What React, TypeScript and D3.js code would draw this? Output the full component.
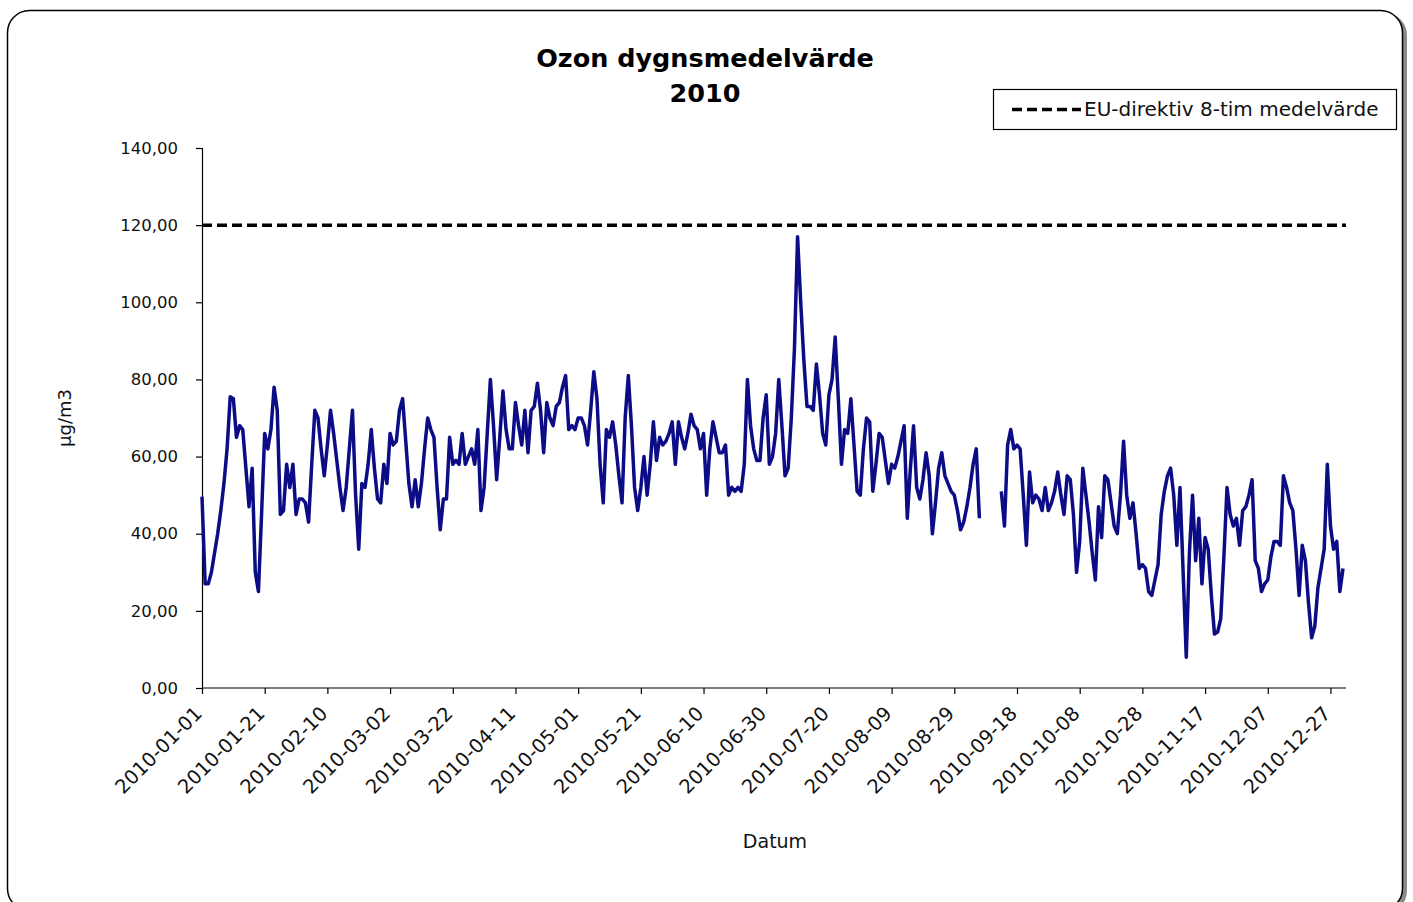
import { useEffect, useRef } from 'react';
import * as d3 from 'd3';

// daily mean ozone, µg/m3, one array per month (null = missing)
const jan = [49.6, 27, 27, 30, 35, 40, 46, 53, 62, 75.5, 75, 65, 68, 67, 57, 47, 57, 30, 25, 45, 66, 62, 67, 78, 72, 45, 46, 58, 52, 58, 45];
const feb = [49, 49, 48, 43, 58, 72, 70, 62, 55, 63, 72, 66, 59, 52, 46, 52, 62, 72, 50, 36, 53, 52, 58, 67, 57, 49, 48, 58];
const mar = [53, 66, 63, 64, 72, 75, 64, 53, 47, 54, 47, 53, 62, 70, 67, 65, 52, 41, 49, 49, 65, 58, 59, 58, 66, 58, 60, 62, 58, 67, 46];
const apr = [52, 66, 80, 68, 54, 65, 77, 67, 62, 62, 74, 68, 63, 72, 61, 72, 73, 79, 72, 61, 74, 70, 68, 73, 74, 78, 81, 67, 68, 67];
const may = [70, 70, 68, 63, 72, 82, 75, 58, 48, 67, 65, 69, 63, 55, 48, 70, 81, 68, 52, 46, 52, 60, 50, 58, 69, 59, 65, 63, 64, 66, 69];
const jun = [58, 69, 65, 62, 66, 71, 68, 67, 62, 66, 50, 62, 69, 65, 61, 61, 63, 50, 52, 51, 52, 51, 58, 80, 68, 62, 59, 59, 70, 76];
const jul = [58, 60, 66, 80, 68, 55, 57, 70, 88, 117, 100, 85, 73, 73, 72, 84, 76, 66, 63, 76, 80, 91, 75, 58, 67, 66, 75, 63, 51, 50, 62];
const aug = [70, 69, 51, 58, 66, 65, 59, 53, 58, 57, 60, 64, 68, 44, 57, 68, 52, 49, 54, 61, 55, 40, 48, 57, 61, 55, 53, 51, 50, 46, 41];
const sep = [43, 47, 52, 58, 62, 44, null, null, null, null, null, null, 51, 42, 63, 67, 62, 63, 62, 50, 37, 56, 48, 50, 49, 46, 52, 46, 48, 51];
const oct = [56, 50, 45, 55, 54, 45, 30, 38, 57, 50, 43, 35, 28, 47, 39, 55, 54, 48, 42, 40, 50, 64, 50, 44, 48, 40, 31, 32, 31, 25, 24];
const nov = [28, 32, 45, 51, 55, 57, 50, 37, 52, 30, 8, 35, 50, 33, 44, 27, 39, 36, 24, 14, 14.5, 18, 34, 52, 45, 42, 44, 37, 46, 47];
const dec = [50, 54, 33, 31, 25, 27, 28, 34, 38, 38, 37, 55, 52, 48, 46, 36, 24, 37, 33, 22, 13, 16, 26, 31, 36, 58, 42, 36, 38, 25, 31];

const months = [jan, feb, mar, apr, may, jun, jul, aug, sep, oct, nov, dec];
const limitValue = 120;
const yTicks = [0, 20, 40, 60, 80, 100, 120, 140];
const tickEveryDays = 20;

const W = 1413;
const H = 902;
const margin = { left: 202, right: 70, top: 148, bottom: 214 };
const FONT = 'DejaVu Sans, Verdana, sans-serif';

export default function App() {
  const svgRef = useRef<SVGSVGElement>(null);

  useEffect(() => {
    const svg = d3.select(svgRef.current);
    svg.selectAll('*').remove();

    const start = new Date(2010, 0, 1);
    const data: { date: Date; value: number | null }[] = [];
    months.forEach((vals, m) => {
      vals.forEach((v, i) => data.push({ date: new Date(2010, m, i + 1), value: v }));
    });
    const end = data[data.length - 1].date;

    const x = d3.scaleTime().domain([start, end]).range([margin.left, W - margin.right]);
    const y = d3.scaleLinear().domain([0, 140]).range([H - margin.bottom, margin.top]);

    // frame with shadow
    svg.append('rect')
      .attr('x', 10).attr('y', 13).attr('width', 1397).attr('height', 900)
      .attr('rx', 22).attr('fill', '#8a8a8a');
    svg.append('rect')
      .attr('x', 7.5).attr('y', 10.5).attr('width', 1395).attr('height', 900)
      .attr('rx', 22).attr('fill', '#fff').attr('stroke', '#000').attr('stroke-width', 1.5);

    // title
    const title = svg.append('text')
      .attr('x', 705).attr('y', 67)
      .attr('text-anchor', 'middle')
      .attr('font-family', FONT)
      .attr('font-weight', 'bold')
      .attr('font-size', 25.5);
    title.append('tspan').attr('x', 705).text('Ozon dygnsmedelvärde');
    title.append('tspan').attr('x', 705).attr('dy', 35).text('2010');

    // y axis
    const yAxis = svg.append('g')
      .attr('transform', `translate(${margin.left},0)`)
      .call(d3.axisLeft(y).tickValues(yTicks).tickSize(6).tickPadding(18)
        .tickFormat(d => d3.format('.2f')(d as number).replace('.', ',')));
    yAxis.select('.domain').attr('stroke', '#000').attr('stroke-width', 1.2);
    yAxis.selectAll('line').attr('stroke', '#000').attr('stroke-width', 1.2);
    yAxis.selectAll('text')
      .attr('font-family', FONT)
      .attr('font-size', 16.5).attr('fill', '#111');

    // x axis
    const xTicks = d3.timeDay.range(start, d3.timeDay.offset(end, 1), tickEveryDays);
    const xAxis = svg.append('g')
      .attr('transform', `translate(0,${H - margin.bottom})`)
      .call(d3.axisBottom(x).tickValues(xTicks).tickSize(6).tickSizeOuter(0)
        .tickFormat(d => d3.timeFormat('%Y-%m-%d')(d as Date)));
    xAxis.select('.domain').attr('stroke', '#000').attr('stroke-width', 1.2)
      .attr('d', `M${margin.left},0H${W - margin.right + 3}`);
    xAxis.selectAll('line').attr('stroke', '#000').attr('stroke-width', 1.2);
    xAxis.selectAll('text')
      .attr('font-family', FONT)
      .attr('font-size', 19.5).attr('fill', '#111')
      .attr('text-anchor', 'end')
      .attr('y', 0)
      .attr('dy', '0.35em')
      .attr('transform', 'translate(-4,22) rotate(-45)');

    // axis titles
    svg.append('text')
      .attr('x', 775).attr('y', 848)
      .attr('text-anchor', 'middle')
      .attr('font-family', FONT)
      .attr('font-size', 19)
      .attr('fill', '#111')
      .text('Datum');
    svg.append('text')
      .attr('transform', `translate(71,${(y(0) + y(140)) / 2}) rotate(-90)`)
      .attr('text-anchor', 'middle')
      .attr('font-family', FONT)
      .attr('font-size', 18)
      .attr('fill', '#111')
      .text('µg/m3');

    // limit line
    svg.append('line')
      .attr('x1', margin.left).attr('x2', W - margin.right + 3)
      .attr('y1', y(limitValue)).attr('y2', y(limitValue))
      .attr('stroke', '#000').attr('stroke-width', 3.5)
      .attr('stroke-dasharray', '10,5');

    // series
    const line = d3.line<{ date: Date; value: number | null }>()
      .defined(d => d.value !== null)
      .x(d => x(d.date))
      .y(d => y(d.value as number));
    svg.append('path')
      .datum(data)
      .attr('fill', 'none')
      .attr('stroke', '#0c0c86')
      .attr('stroke-width', 3.5)
      .attr('stroke-linejoin', 'round')
      .attr('d', line);

    // legend
    const lg = svg.append('g').attr('transform', 'translate(993,89)');
    lg.append('rect')
      .attr('x', 0.5).attr('y', 0.5).attr('width', 403).attr('height', 40)
      .attr('fill', '#fff').attr('stroke', '#000').attr('stroke-width', 1.2);
    lg.append('line')
      .attr('x1', 19).attr('x2', 88).attr('y1', 20.5).attr('y2', 20.5)
      .attr('stroke', '#000').attr('stroke-width', 3.5)
      .attr('stroke-dasharray', '10,5');
    lg.append('text')
      .attr('x', 91).attr('y', 27)
      .attr('font-family', FONT)
      .attr('font-size', 20)
      .attr('fill', '#111')
      .text('EU-direktiv 8-tim medelvärde');
  }, []);

  return (
    <div style={{ position: 'absolute', left: 0, top: 0, width: W, height: H, overflow: 'hidden', background: '#fff' }}>
      <svg ref={svgRef} width={W} height={H} style={{ display: 'block' }} />
    </div>
  );
}
